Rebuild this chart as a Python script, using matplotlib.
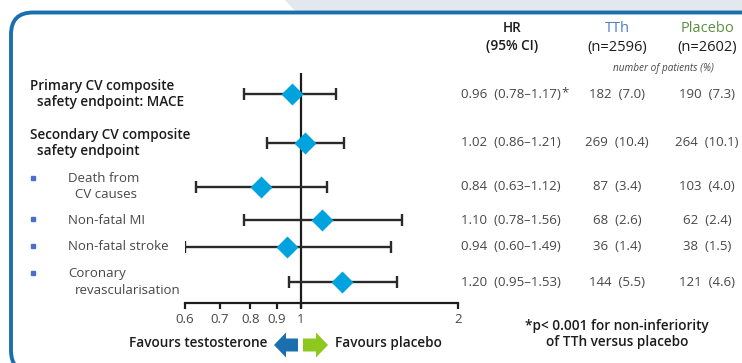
#!/usr/bin/env python3
"""Forest plot: TTh vs placebo CV safety endpoints (HR, log scale)."""

import matplotlib as mpl
mpl.use("Agg")
import matplotlib.pyplot as plt
from matplotlib.patches import FancyBboxPatch, Polygon, FancyArrow

# ---- data -------------------------------------------------------------
hr = [0.96, 1.02, 0.84, 1.10, 0.94, 1.20]
ci_lo = [0.78, 0.86, 0.63, 0.78, 0.60, 0.95]
ci_hi = [1.17, 1.21, 1.12, 1.56, 1.49, 1.53]
tth_n = [182, 269, 87, 68, 36, 144]
tth_pct = [7.0, 10.4, 3.4, 2.6, 1.4, 5.5]
pla_n = [190, 264, 103, 62, 38, 121]
pla_pct = [7.3, 10.1, 4.0, 2.4, 1.5, 4.6]
hr_note = ["*", "", "", "", "", ""]
main_labels = [
    ("Primary CV composite", "safety endpoint: MACE"),
    ("Secondary CV composite", "safety endpoint"),
]
sub_labels = [
    ("Death from", "CV causes"),
    ("Non-fatal MI", None),
    ("Non-fatal stroke", None),
    ("Coronary", "revascularisation"),
]
xticks = [0.6, 0.7, 0.8, 0.9, 1, 2]
xtick_labels = ["0.6", "0.7", "0.8", "0.9", "1", "2"]

# ---- layout (pixel rows on a 742x363 canvas) --------------------------
W, H = 742, 363
ROW_Y = [94, 143, 187, 220, 247, 282]
AXIS_Y = 303

BORDER = "#1b6fae"
DIAMOND = "#00a3dd"
INK = "#1c1c1c"
GREY = "#474747"
TTH_BLUE = "#4d7ccc"
PLA_GREEN = "#5b9140"
BULLET = "#4a6fd0"
SEMI = "semibold"

plt.rcParams["font.family"] = ["Open Sans", "DejaVu Sans"]

fig = plt.figure(figsize=(W / 100, H / 100), dpi=100)
fig.patch.set_facecolor("white")

bg = fig.add_axes([0, 0, 1, 1])
bg.set_xlim(0, W)
bg.set_ylim(H, 0)
bg.axis("off")

# light band top right + rounded blue frame
bg.add_patch(Polygon([(285, 0), (W, 0), (W, 12), (296, 12)],
                     closed=True, facecolor="#e3e8ef", edgecolor="none", zorder=0))
bg.add_patch(FancyBboxPatch((11, 12.5), 770, 360,
                            boxstyle="round,pad=0,rounding_size=22",
                            facecolor="white", edgecolor=BORDER,
                            linewidth=2.8, zorder=1))

# ---- forest axes (log x) ---------------------------------------------
ax = fig.add_axes([185 / W, 0, (458 - 185) / W, 1])
ax.set_xscale("log")
ax.set_xlim(0.6, 2)
ax.set_ylim(H, 0)
ax.patch.set_visible(False)
for side in ("top", "right", "left"):
    ax.spines[side].set_visible(False)
ax.spines["bottom"].set_position(("data", AXIS_Y))
ax.spines["bottom"].set_linewidth(1.6)
ax.spines["bottom"].set_color(INK)
ax.set_yticks([])
ax.xaxis.set_minor_locator(mpl.ticker.NullLocator())
ax.set_xticks(xticks)
ax.set_xticklabels(xtick_labels)
ax.tick_params(axis="x", direction="out", length=4, width=1.6, color=INK,
               pad=3, labelsize=9.5, labelcolor=GREY)

ax.vlines(1, 73, AXIS_Y + 5, color=INK, linewidth=1.6, zorder=2)
err_lo = [h - l for h, l in zip(hr, ci_lo)]
err_hi = [u - h for h, u in zip(hr, ci_hi)]
ax.errorbar(hr, ROW_Y, xerr=[err_lo, err_hi], fmt="none", ecolor="#2a2a2a",
            elinewidth=1.7, capsize=4.5, capthick=1.7, zorder=3)
ax.plot(hr, ROW_Y, linestyle="none", marker="D", markersize=11.5,
        markerfacecolor=DIAMOND, markeredgecolor="none", zorder=4)

# ---- left labels -------------------------------------------------------
for (l1, l2), y in zip(main_labels, ROW_Y[:2]):
    bg.text(30, y - 8, l1, fontsize=9.8, fontweight=SEMI, color=INK,
            ha="left", va="center", zorder=5)
    bg.text(37, y + 8, l2, fontsize=9.8, fontweight=SEMI, color=INK,
            ha="left", va="center", zorder=5)

for (l1, l2), y in zip(sub_labels, ROW_Y[2:]):
    y1 = y - 8 if l2 else y
    bg.plot(33, y1 - 1, marker="s", markersize=2.6, color=BULLET,
            linestyle="none", zorder=5)
    bg.text(68, y1, l1, fontsize=9.5, color=GREY, ha="left", va="center", zorder=5)
    if l2:
        bg.text(75, y + 8, l2, fontsize=9.5, color=GREY, ha="left",
                va="center", zorder=5)

# ---- right columns -----------------------------------------------------
bg.text(512, 28, "HR", fontsize=9.8, fontweight=SEMI, color=INK,
        ha="center", va="center", zorder=5)
bg.text(512, 46, "(95% CI)", fontsize=9.8, fontweight=SEMI, color=INK,
        ha="center", va="center", zorder=5)
bg.text(617, 29, "TTh", fontsize=10.5, fontweight="medium", color=TTH_BLUE,
        ha="center", va="center", zorder=5)
bg.text(617, 48, "(n=2596)", fontsize=10.5, fontweight="medium", color=INK,
        ha="center", va="center", zorder=5)
bg.text(707, 29, "Placebo", fontsize=10.5, fontweight="medium",
        color=PLA_GREEN, ha="center", va="center", zorder=5)
bg.text(707, 48, "(n=2602)", fontsize=10.5, fontweight="medium", color=INK,
        ha="center", va="center", zorder=5)
bg.text(663, 68, "number of patients (%)", fontsize=7.2, style="italic",
        color=GREY, ha="center", va="center", zorder=5)

for i, y in enumerate(ROW_Y):
    bg.text(561, y, f"{hr[i]:.2f}  ({ci_lo[i]:.2f}\u2013{ci_hi[i]:.2f})",
            fontsize=9.5, color=GREY, ha="right", va="center", zorder=5)
    if hr_note[i]:
        bg.text(561, y - 1, hr_note[i], fontsize=9.5, color=GREY,
                ha="left", va="center", zorder=5)
    bg.text(617, y, f"{tth_n[i]}  ({tth_pct[i]:.1f})", fontsize=9.5,
            color=GREY, ha="center", va="center", zorder=5)
    bg.text(707, y, f"{pla_n[i]}  ({pla_pct[i]:.1f})", fontsize=9.5,
            color=GREY, ha="center", va="center", zorder=5)

# ---- favours arrows ----------------------------------------------------
bg.text(267, 343, "Favours testosterone", fontsize=9.8, fontweight=SEMI,
        color=INK, ha="right", va="center", zorder=5)
bg.text(335, 343, "Favours placebo", fontsize=9.8, fontweight=SEMI,
        color=INK, ha="left", va="center", zorder=5)
bg.add_patch(FancyArrow(298, 345, -24, 0, width=13, head_width=25,
                        head_length=12, length_includes_head=True,
                        facecolor=BORDER, edgecolor="none", zorder=5))
bg.add_patch(FancyArrow(303, 345, 25, 0, width=13, head_width=25,
                        head_length=12, length_includes_head=True,
                        facecolor="#8cc81e", edgecolor="none", zorder=5))

bg.text(617, 326, "*p< 0.001 for non-inferiority", fontsize=9.8,
        fontweight=SEMI, color=INK, ha="center", va="center", zorder=5)
bg.text(617, 342, "of TTh versus placebo", fontsize=9.8,
        fontweight=SEMI, color=INK, ha="center", va="center", zorder=5)

fig.savefig("out.png", dpi=100, facecolor="white")
